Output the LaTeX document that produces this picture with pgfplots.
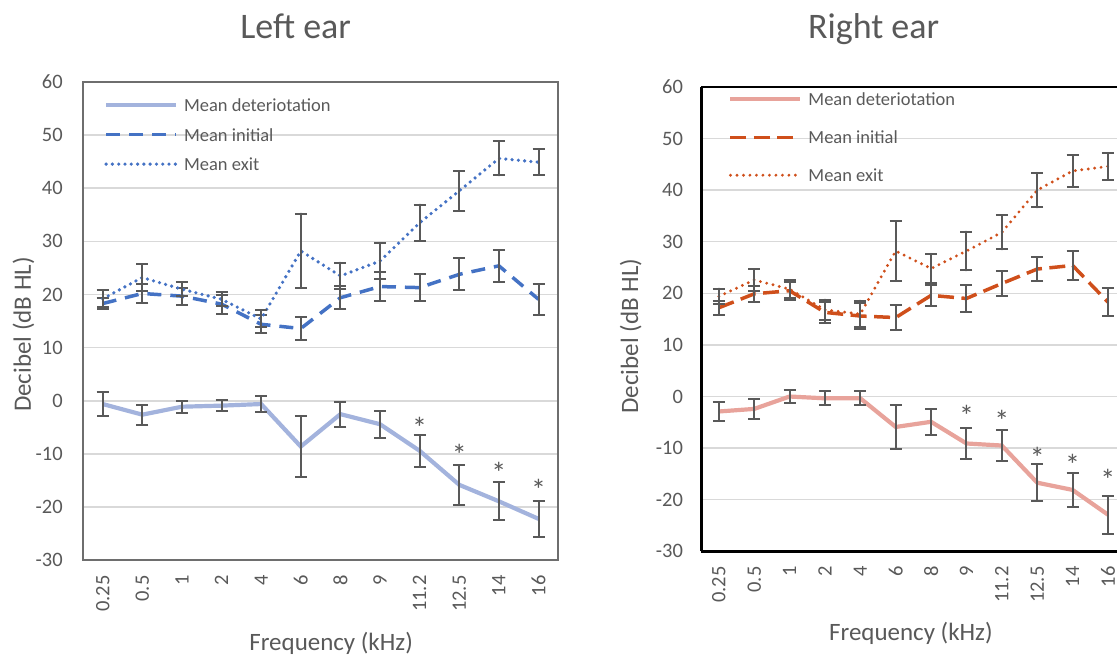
\documentclass[border=0pt]{standalone}
\usepackage{fontspec}
\setmainfont{Carlito}
\usepackage{pgfplots}
\usepackage{pgfplotstable}
\pgfplotsset{compat=1.18}

\definecolor{txt}{HTML}{595959}
\definecolor{errc}{HTML}{595959}
\definecolor{gridc}{HTML}{D9D9D9}
\definecolor{lbox}{HTML}{6E6E6E}
\definecolor{bdet}{HTML}{A3B3DD}
\definecolor{bmain}{HTML}{4472C4}
\definecolor{rdet}{HTML}{E8A39B}
\definecolor{rmain}{HTML}{CF4F1B}

% x = category index, det/ini/ext = means, *e = error half-widths
\pgfplotstableread{
x  det   dete  ini   inie  ext   exte
0  -0.6  2.3   18.3  1.0   19.2  1.6
1  -2.6  1.9   20.2  1.7   23.2  2.5
2  -1.1  1.1   19.7  1.6   21.0  1.3
3  -0.9  1.05  18.2  1.8   19.1  1.3
4  -0.6  1.5   14.4  1.7   15.4  1.6
5  -8.6  5.8   13.6  2.2   28.2  7.0
6  -2.5  2.35  19.4  2.2   23.5  2.5
7  -4.4  2.5   21.5  2.8   26.3  3.4
8  -9.4  3.05  21.3  2.6   33.5  3.4
9  -15.8 3.7   23.8  3.0   39.5  3.7
10 -18.9 3.6   25.4  3.0   45.6  3.2
11 -22.2 3.35  19.1  2.9   44.9  2.4
}\leftear

\pgfplotstableread{
x  det   dete  ini   inie  ext   exte
0  -2.9  1.9   17.2  1.4   19.4  1.5
1  -2.4  1.95  19.9  1.55  22.6  2.1
2  0.0   1.2   20.5  1.7   20.8  1.7
3  -0.35 1.35  16.3  2.0   16.8  2.0
4  -0.35 1.35  15.6  2.6   16.0  2.6
5  -5.9  4.35  15.3  2.45  28.2  5.8
6  -4.9  2.5   19.6  2.0   24.8  2.85
7  -9.1  3.05  19.0  2.6   28.2  3.75
8  -9.5  2.95  21.9  2.45  31.8  3.3
9  -16.7 3.55  24.7  2.3   40.0  3.35
10 -18.1 3.3   25.4  2.85  43.7  3.1
11 -22.9 3.7   18.3  2.75  44.6  2.6
}\rightear

\tikzset{star/.style={font=\fontsize{30}{32}\selectfont, text=txt, yshift=-7pt}}

\pgfplotsset{
  earaxis/.style={
    anchor=south west, scale only axis,
    xmin=-0.5, ymin=-30, ymax=60,
    xtick={0,...,11},
    xticklabels={0.25,0.5,1,2,4,6,8,9,11.2,12.5,14,16},
    ytick={-30,-20,...,60},
    /pgf/number format/assume math mode=true,
    major tick length=0pt,
    ymajorgrids, grid style={draw=gridc, line width=1.5pt},
    tick label style={font=\fontsize{20.5}{22}\selectfont, text=txt, inner sep=0pt},
    xticklabel style={rotate=90, anchor=east},
    xticklabel shift=15pt,
    legend cell align=left,
    legend image code/.code={\draw[##1] (0pt,0pt) -- (70pt,0pt);},
    legend style={draw=none, fill=none, anchor=north west, inner sep=0pt,
      font=\fontsize{18.5}{20}\selectfont, text=txt,
      nodes={inner sep=0pt, text height=13pt, text depth=0pt},
      /tikz/every odd column/.append style={column sep=6pt}},
  },
  errs/.style={error bars/.cd, y dir=both, y explicit,
    error bar style={draw=errc, line width=2pt, solid},
    error mark options={rotate=90, mark size=6pt, draw=errc, line width=2pt, solid}},
}

\begin{document}
\begin{tikzpicture}[x=1pt,y=1pt]
\path (0,0) rectangle (1118,656);

% Left ear
\begin{axis}[earaxis, at={(83pt,95pt)}, width=476pt, height=479pt, xmax=11.5,
  axis line style={draw=lbox, line width=1.8pt},
  yticklabel shift=20pt,
  legend style={at={(0.044,0.9653)}, row sep=16.5pt}]
\addplot[bdet, line width=4.2pt, mark=none, errs] table[x=x, y=det, y error=dete] {\leftear};
\addlegendentry{Mean deteriotation}
\addplot[bmain, line width=3.5pt, mark=none, dash pattern=on 14pt off 9pt, errs] table[x=x, y=ini, y error=inie] {\leftear};
\addlegendentry{Mean initial}
\addplot[bmain, line width=3.6pt, mark=none, line cap=round, dash pattern=on 0pt off 6.3pt, errs] table[x=x, y=ext, y error=exte] {\leftear};
\addlegendentry{Mean exit}
\node[star] at (axis cs:8,-3.8) {*};
\node[star] at (axis cs:9,-8.8) {*};
\node[star] at (axis cs:10,-12.2) {*};
\node[star] at (axis cs:11,-15.5) {*};
\end{axis}

% Right ear (its right edge is cut off in the original)
\begin{axis}[earaxis, at={(702pt,104pt)}, width=416pt, height=465pt, xmax=11.246,
  axis x line*=box, axis y line*=left,
  axis line style={draw=black, line width=2.7pt},
  yticklabel shift=18pt,
  legend style={at={(0.065,0.9877)}, row sep=25pt}]
\addplot[rdet, line width=4.2pt, mark=none, errs] table[x=x, y=det, y error=dete] {\rightear};
\addlegendentry{Mean deteriotation}
\addplot[rmain, line width=3.5pt, mark=none, dash pattern=on 16pt off 7.5pt, errs] table[x=x, y=ini, y error=inie] {\rightear};
\addlegendentry{Mean initial}
\addplot[rmain, line width=3.2pt, mark=none, line cap=round, dash pattern=on 0pt off 6.5pt, errs] table[x=x, y=ext, y error=exte] {\rightear};
\addlegendentry{Mean exit}
\node[star] at (axis cs:7,-2.3) {*};
\node[star] at (axis cs:8,-3.3) {*};
\node[star] at (axis cs:9,-10.5) {*};
\node[star] at (axis cs:10,-11.8) {*};
\node[star] at (axis cs:11,-14.8) {*};
\end{axis}

% titles and axis labels
\node[font=\fontsize{36}{40}\selectfont, text=txt, anchor=base] at (296,617) {Left ear};
\node[font=\fontsize{36}{40}\selectfont, text=txt, anchor=base] at (874.7,617) {Right ear};
\node[font=\fontsize{25}{28}\selectfont, text=txt, anchor=base] at (331.5,4.3) {Frequency (kHz)};
\node[font=\fontsize{25}{28}\selectfont, text=txt, anchor=base] at (912,14.3) {Frequency (kHz)};
\node[font=\fontsize{25}{28}\selectfont, text=txt, anchor=base, rotate=90] at (31,321) {Decibel (dB HL)};
\node[font=\fontsize{25}{28}\selectfont, text=txt, anchor=base, rotate=90] at (639,319.5) {Decibel (dB HL)};
\end{tikzpicture}
\end{document}
